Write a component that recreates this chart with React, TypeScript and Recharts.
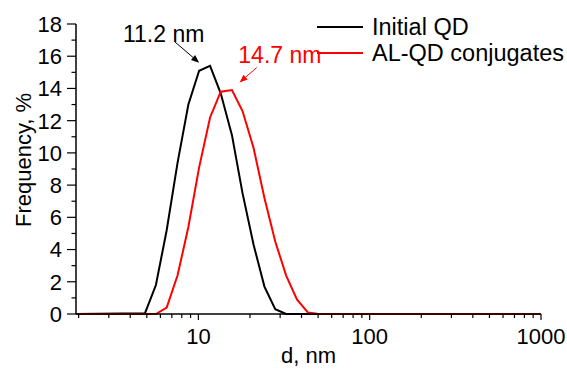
import React from 'react';
import {
  LineChart,
  Line,
  XAxis,
  YAxis,
  Legend,
  ReferenceLine,
  ReferenceDot,
} from 'recharts';

// hydrodynamic diameter bins, nm
const sizes = [1.8, 4.88, 5.65, 6.53, 7.56, 8.74, 10.1, 11.7, 13.5, 15.7, 18.1, 21.0, 24.3, 28.1, 32.5, 37.6, 43.5, 50.3, 1000];
const initialQD = [0, 0.05, 1.8, 5.2, 9.4, 13.0, 15.1, 15.4, 13.7, 11.1, 7.5, 4.3, 1.7, 0.3, 0, 0, 0, 0, 0];
const conjugates = [0, 0, 0, 0.4, 2.4, 5.4, 9.1, 12.2, 13.8, 13.9, 12.6, 10.3, 7.2, 4.5, 2.4, 0.9, 0.1, 0, 0];

const xMajor = [10, 100, 1000];
const xTicks = [2, 3, 4, 5, 6, 7, 8, 9, 10, 20, 30, 40, 50, 60, 70, 80, 90, 100, 200, 300, 400, 500, 600, 700, 800, 900, 1000];
const yTicks = [0, 1, 2, 3, 4, 5, 6, 7, 8, 9, 10, 11, 12, 13, 14, 15, 16, 17, 18];

const SERIES = [
  { key: 'initial', name: 'Initial QD', color: '#000000' },
  { key: 'conj', name: 'AL-QD conjugates', color: '#ff0000' },
];

const data = sizes.map((d, i) => ({ d, initial: initialQD[i], conj: conjugates[i] }));

const FONT = '"Liberation Sans", Arial, sans-serif';

const XTick = (props: any) => {
  const { x, y, payload } = props;
  const major = xMajor.includes(payload.value);
  return (
    <g>
      <line x1={x} x2={x} y1={y} y2={y + (major ? 6 : 4)} stroke="#000" strokeWidth={1.2} />
      {major && (
        <text x={x} y={y + 30} textAnchor="middle" fontSize={22} fontFamily={FONT} fill="#000">
          {payload.value}
        </text>
      )}
    </g>
  );
};

const YTick = (props: any) => {
  const { x, y, payload } = props;
  const major = payload.value % 2 === 0;
  return (
    <g>
      <line x1={x - (major ? 9 : 4.5)} x2={x} y1={y} y2={y} stroke="#000" strokeWidth={1.2} />
      {major && (
        <text x={x - 14} y={y} dy="0.36em" textAnchor="end" fontSize={22} fontFamily={FONT} fill="#000">
          {payload.value}
        </text>
      )}
    </g>
  );
};

const Arrow = (color: string) => (p: any) => {
  const { x1, y1, x2, y2 } = p;
  const a = Math.atan2(y2 - y1, x2 - x1);
  const len = 8;
  const w = 3.2;
  const bx = x2 - len * Math.cos(a);
  const by = y2 - len * Math.sin(a);
  const pts = `${x2},${y2} ${bx - w * Math.sin(a)},${by + w * Math.cos(a)} ${bx + w * Math.sin(a)},${by - w * Math.cos(a)}`;
  return (
    <g>
      <line x1={x1} y1={y1} x2={bx} y2={by} stroke={color} strokeWidth={1} />
      <polygon points={pts} fill={color} />
    </g>
  );
};

const Note = (label: string, color: string) => (p: any) => (
  <text x={p.cx} y={p.cy} fontSize={23} fontFamily={FONT} fill={color}>
    {label}
  </text>
);

const renderLegend = () => (
  <div style={{ fontFamily: FONT, fontSize: 23.5 }}>
    {SERIES.map((s) => (
      <div key={s.key} style={{ display: 'flex', alignItems: 'center', height: 26 }}>
        <svg width={46} height={26}>
          <line x1={0} x2={46} y1={13} y2={13} stroke={s.color} strokeWidth={2} />
        </svg>
        <span style={{ marginLeft: 9, lineHeight: '26px', color: '#000', whiteSpace: 'nowrap' }}>{s.name}</span>
      </div>
    ))}
  </div>
);

export default function App() {
  return (
    <div style={{ position: 'absolute', left: 0, top: 0, fontFamily: FONT }}>
      <LineChart width={567} height={369} data={data} margin={{ top: 24, right: 26, left: 0, bottom: 0 }}>
        <XAxis
          dataKey="d"
          type="number"
          scale="log"
          domain={[1.93, 1000]}
          allowDataOverflow
          ticks={xTicks}
          interval={0}
          tick={<XTick />}
          tickLine={false}
          tickSize={0}
          tickMargin={0}
          height={55}
          axisLine={{ stroke: '#000', strokeWidth: 1.5 }}
          label={{
            content: ({ viewBox }: any) => (
              <text x={viewBox.x + viewBox.width / 2} y={363} textAnchor="middle" fontSize={22} fontFamily={FONT} fill="#000">
                d, nm
              </text>
            ),
          }}
        />
        <YAxis
          type="number"
          domain={[0, 18]}
          ticks={yTicks}
          interval={0}
          tick={<YTick />}
          tickLine={false}
          tickSize={0}
          tickMargin={0}
          width={76}
          axisLine={{ stroke: '#000', strokeWidth: 1.5 }}
          label={{
            content: () => (
              <text x={23} y={160} transform="rotate(-90 23 160)" textAnchor="middle" dy="0.36em" fontSize={22} fontFamily={FONT} fill="#000">
                Frequency, %
              </text>
            ),
          }}
        />
        <Legend
          layout="horizontal"
          verticalAlign="middle"
          align="center"
          content={renderLegend}
          wrapperStyle={{ position: 'absolute', left: 317, top: 14, width: 250 }}
        />
        {SERIES.map((s) => (
          <Line
            key={s.key}
            dataKey={s.key}
            name={s.name}
            type="linear"
            stroke={s.color}
            strokeWidth={2}
            dot={false}
            isAnimationActive={false}
          />
        ))}
        <ReferenceLine segment={[{ x: 7.31, y: 16.88 }, { x: 10.1, y: 15.6 }]} shape={Arrow('#000')} ifOverflow="visible" />
        <ReferenceLine segment={[{ x: 21.9, y: 15.3 }, { x: 17.4, y: 14.37 }]} shape={Arrow('#ff0000')} ifOverflow="visible" />
        <ReferenceDot x={3.63} y={16.9} r={0} shape={Note('11.2 nm', '#000')} ifOverflow="visible" />
        <ReferenceDot x={17.1} y={15.57} r={0} shape={Note('14.7 nm', '#ff0000')} ifOverflow="visible" />
      </LineChart>
    </div>
  );
}
